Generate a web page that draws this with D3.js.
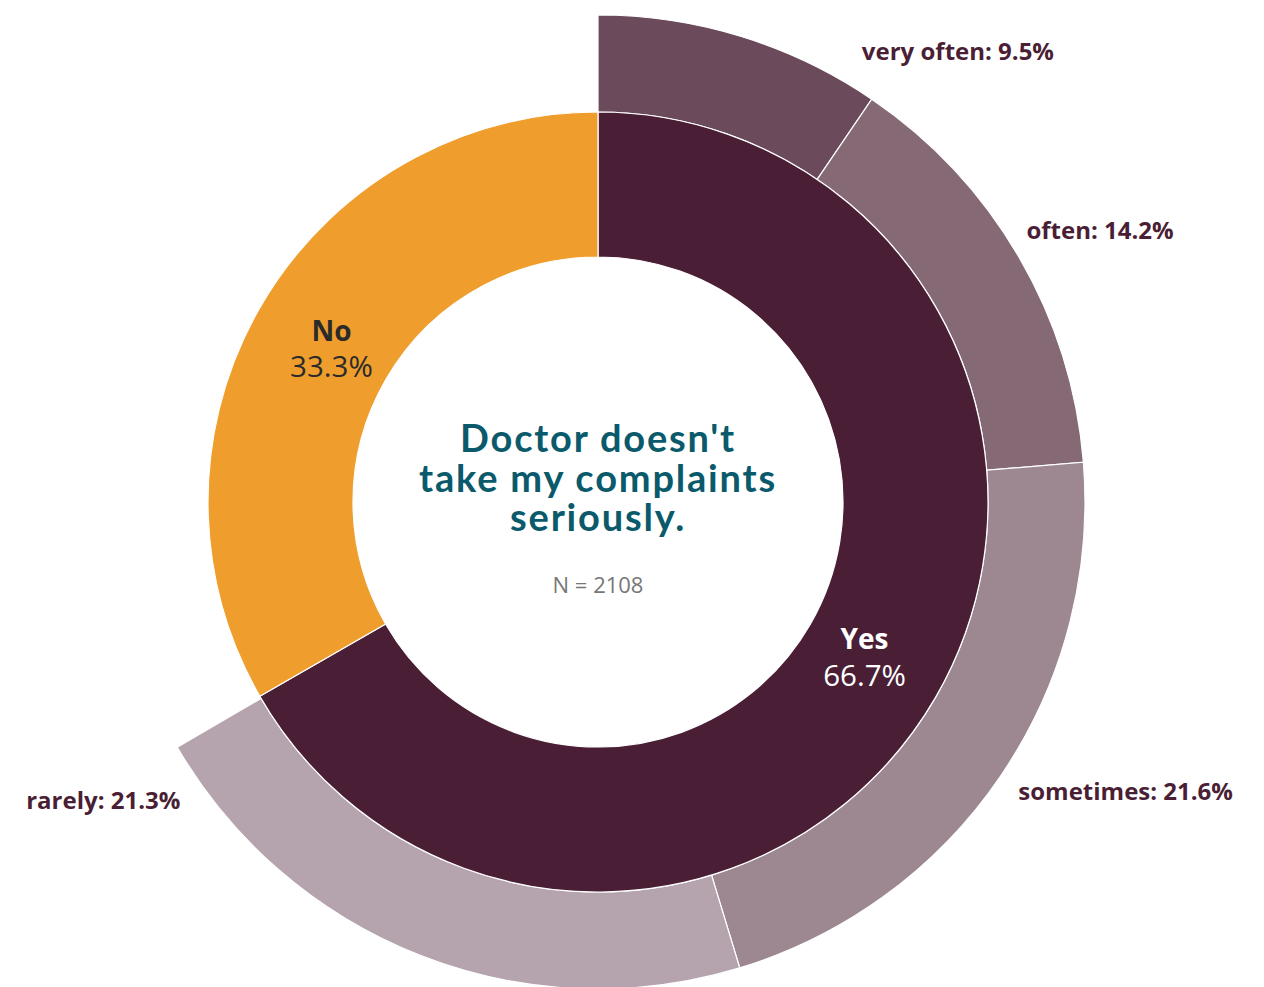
<!DOCTYPE html>
<html>
<head>
<meta charset="utf-8">
<script src="https://cdn.jsdelivr.net/npm/d3@7/dist/d3.min.js"></script>
<style>
  html, body { margin: 0; padding: 0; background: #fff; }
  svg { display: block; }
</style>
</head>
<body>
<svg id="chart" width="1264" height="987"></svg>
<script>
// Answer split (inner ring) and frequency breakdown of "Yes" (outer ring), in percent of all respondents
const answers = ["Yes", "No"];
const answerValues = [66.7, 33.3];
const frequencies = ["very often", "often", "sometimes", "rarely"];
const frequencyValues = [9.5, 14.2, 21.6, 21.3];
const titleLines = ["Doctor doesn't", "take my complaints", "seriously."];
const sampleLabel = "N = 2108";

// Layout and styling
const width = 1264, height = 987;
const cx = 598, cy = 502;
const innerR0 = 245, innerR1 = 390, outerR1 = 487;
const innerLabelR = 308;
const answerColors = ["#4a1f35", "#ef9d2d"];
const answerTextColors = ["#ffffff", "#2b2b2b"];
const frequencyColors = ["#6b4a5b", "#856a76", "#9d8892", "#b5a4ae"];
const labelAngles = [30.3, 57.5, 124.5, 234.5]; // degrees clockwise from top
const labelRadii = [523, 508, 510, 513];
const labelColor = "#4a1f35";

const svg = d3.select("#chart");
const g = svg.append("g").attr("transform", `translate(${cx},${cy})`);

// Angle scale: percent of the whole circle -> radians
const angle = d3.scaleLinear().domain([0, 100]).range([0, 2 * Math.PI]);

const pie = d3.pie().sort(null).value(d => d.value)
  .startAngle(0).endAngle(2 * Math.PI);

const innerData = pie(answers.map((a, i) => ({ name: a, value: answerValues[i] })));

// Outer slices: cumulative angles in absolute percent of the total
let acc = 0;
const outerData = frequencies.map((f, i) => {
  const s = acc; acc += frequencyValues[i];
  return { name: f, value: frequencyValues[i], startAngle: angle(s), endAngle: angle(acc), i };
});

const innerArc = d3.arc().innerRadius(innerR0).outerRadius(innerR1);
const outerArc = d3.arc().innerRadius(innerR1).outerRadius(outerR1);
const innerLabelArc = d3.arc().innerRadius(innerLabelR).outerRadius(innerLabelR);

g.selectAll("path.outer").data(outerData).join("path")
  .attr("class", "outer")
  .attr("d", outerArc)
  .attr("fill", d => frequencyColors[d.i])
  .attr("stroke", "#ffffff").attr("stroke-width", 1.2);

g.selectAll("path.inner").data(innerData).join("path")
  .attr("class", "inner")
  .attr("d", innerArc)
  .attr("fill", (d, i) => answerColors[i])
  .attr("stroke", "#ffffff").attr("stroke-width", 1.2);

// Inner ring labels: name and share
const innerLabels = g.selectAll("g.ilabel").data(innerData).join("g")
  .attr("class", "ilabel")
  .attr("transform", d => `translate(${innerLabelArc.centroid(d)})`);
innerLabels.append("text")
  .attr("text-anchor", "middle").attr("dominant-baseline", "central").attr("y", -18)
  .attr("font-family", "'Open Sans', sans-serif").attr("font-weight", 700).attr("font-size", 28)
  .attr("fill", (d, i) => answerTextColors[i])
  .text(d => d.data.name);
innerLabels.append("text")
  .attr("text-anchor", "middle").attr("dominant-baseline", "central").attr("y", 18)
  .attr("font-family", "'Open Sans', sans-serif").attr("font-weight", 400).attr("font-size", 29.5)
  .attr("fill", (d, i) => answerTextColors[i])
  .text(d => d.data.value.toFixed(1) + "%");

// Outer ring labels
g.selectAll("text.olabel").data(outerData).join("text")
  .attr("class", "olabel")
  .each(function (d) {
    const a = labelAngles[d.i] * Math.PI / 180, r = labelRadii[d.i];
    const x = r * Math.sin(a), y = -r * Math.cos(a);
    d3.select(this).attr("x", x).attr("y", y)
      .attr("text-anchor", x >= 0 ? "start" : "end");
  })
  .attr("dominant-baseline", "central")
  .attr("font-family", "'Open Sans', sans-serif").attr("font-weight", 700).attr("font-size", 24)
  .attr("fill", labelColor)
  .text(d => `${d.name}: ${d.value.toFixed(1)}%`);

// Center title: one text block, one tspan per line
const title = g.append("text")
  .attr("class", "title")
  .attr("text-anchor", "middle")
  .attr("dominant-baseline", "central")
  .attr("font-family", "Lato, sans-serif").attr("font-weight", 700).attr("font-size", 38)
  .attr("letter-spacing", 1.8)
  .attr("fill", "#0b5a6b");
title.selectAll("tspan").data(titleLines).join("tspan")
  .attr("x", 0)
  .attr("y", (d, i) => -65 + i * 39.5)
  .text(d => d);

g.append("text")
  .attr("text-anchor", "middle").attr("dominant-baseline", "central")
  .attr("y", 82)
  .attr("font-family", "'Open Sans', sans-serif").attr("font-size", 22)
  .attr("fill", "#777777")
  .text(sampleLabel);
</script>
</body>
</html>
